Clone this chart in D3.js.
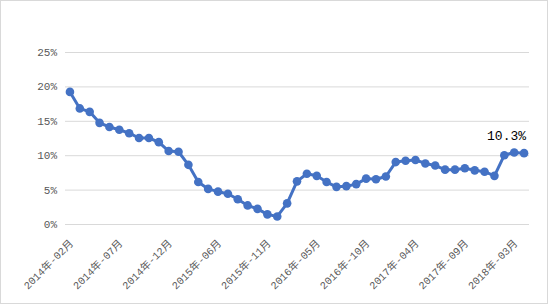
<!DOCTYPE html>
<html>
<head>
<meta charset="utf-8">
<script src="https://cdn.jsdelivr.net/npm/d3@7"></script>
<style>
  body { margin: 0; background: #fff; }
  svg { display: block; }
</style>
</head>
<body>
<script>
// Monthly categories (January missing each year)
const categories = [
  "2014年-02月","2014年-03月","2014年-04月","2014年-05月","2014年-06月","2014年-07月",
  "2014年-08月","2014年-09月","2014年-10月","2014年-11月","2014年-12月",
  "2015年-02月","2015年-03月","2015年-04月","2015年-05月","2015年-06月","2015年-07月",
  "2015年-08月","2015年-09月","2015年-10月","2015年-11月","2015年-12月",
  "2016年-02月","2016年-03月","2016年-04月","2016年-05月","2016年-06月","2016年-07月",
  "2016年-08月","2016年-09月","2016年-10月","2016年-11月","2016年-12月",
  "2017年-02月","2017年-03月","2017年-04月","2017年-05月","2017年-06月","2017年-07月",
  "2017年-08月","2017年-09月","2017年-10月","2017年-11月","2017年-12月",
  "2018年-02月","2018年-03月","2018年-04月"
];

// Growth rate, %
const values = [
  19.2, 16.8, 16.3, 14.7, 14.1, 13.7, 13.2, 12.5, 12.5, 11.9, 10.6,
  10.5, 8.6, 6.1, 5.1, 4.7, 4.4, 3.6, 2.7, 2.2, 1.4, 1.1,
  3.0, 6.2, 7.3, 7.0, 6.1, 5.4, 5.5, 5.8, 6.6, 6.5, 6.9,
  9.0, 9.2, 9.3, 8.8, 8.5, 7.9, 7.9, 8.1, 7.8, 7.6, 7.0,
  10.0, 10.4, 10.3
];

const yTicks = [0, 5, 10, 15, 20, 25];

const W = 548, H = 304;
const plot = { left: 65, right: 529, top: 52, bottom: 224 };
const font = "'Liberation Mono', 'Noto Sans CJK SC', monospace";

const svg = d3.select("body").append("svg")
  .attr("width", W)
  .attr("height", H);

// outer border
svg.append("rect")
  .attr("x", 0.5).attr("y", 0.5)
  .attr("width", W - 1).attr("height", H - 1)
  .attr("fill", "#fff")
  .attr("stroke", "#d9d9d9");

const x = d3.scaleBand()
  .domain(categories)
  .range([plot.left, plot.right])
  .padding(0);

const y = d3.scaleLinear()
  .domain([0, 25])
  .range([plot.bottom, plot.top]);

const cx = (d) => x(d) + x.bandwidth() / 2;

// gridlines + y labels
const yAxis = d3.axisLeft(y)
  .tickValues(yTicks)
  .tickSize(-(plot.right - plot.left))
  .tickPadding(8)
  .tickFormat((d) => d + "%");

const gy = svg.append("g")
  .attr("transform", `translate(${plot.left},0)`)
  .call(yAxis);
gy.select(".domain").remove();
gy.selectAll(".tick line").attr("stroke", "#d9d9d9");
gy.selectAll(".tick text")
  .attr("fill", "#595959")
  .style("font-family", font)
  .style("font-size", "11px");

// x labels, every 5th category, rotated
const xAxis = d3.axisBottom(x)
  .tickValues(categories.filter((d, i) => i % 5 === 0))
  .tickSize(0)
  .tickPadding(0);

const gx = svg.append("g")
  .attr("transform", `translate(0,${plot.bottom})`)
  .call(xAxis);
gx.select(".domain").remove();
gx.selectAll(".tick text")
  .attr("fill", "#595959")
  .attr("text-anchor", "end")
  .attr("y", 0)
  .attr("dy", 0)
  .attr("transform", "translate(4,20) rotate(-45)")
  .style("font-family", font)
  .style("font-size", "10.5px");

// line
const line = d3.line()
  .x((d, i) => cx(categories[i]))
  .y((d) => y(d));

svg.append("path")
  .datum(values)
  .attr("fill", "none")
  .attr("stroke", "#4472c4")
  .attr("stroke-width", 3)
  .attr("stroke-linejoin", "round")
  .attr("d", line);

svg.append("g")
  .selectAll("circle")
  .data(values)
  .enter()
  .append("circle")
  .attr("cx", (d, i) => cx(categories[i]))
  .attr("cy", (d) => y(d))
  .attr("r", 4.3)
  .attr("fill", "#4472c4");

// data label on last point
const last = values.length - 1;
svg.append("text")
  .attr("x", cx(categories[last]) + 2)
  .attr("y", y(values[last]) - 13)
  .attr("text-anchor", "end")
  .attr("fill", "#000")
  .style("font-family", font)
  .style("font-size", "13px")
  .text(values[last].toFixed(1) + "%");
</script>
</body>
</html>
